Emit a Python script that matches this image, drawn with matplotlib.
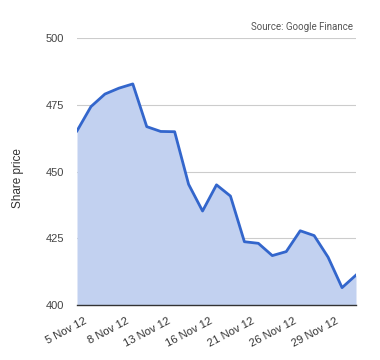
import matplotlib
matplotlib.use("Agg")
import matplotlib.pyplot as plt
import matplotlib.transforms as mtransforms

# Daily closing share price
dates = ["5 Nov 12", "6 Nov 12", "7 Nov 12", "8 Nov 12", "9 Nov 12",
         "12 Nov 12", "13 Nov 12", "14 Nov 12", "15 Nov 12", "16 Nov 12",
         "19 Nov 12", "20 Nov 12", "21 Nov 12", "22 Nov 12", "23 Nov 12",
         "26 Nov 12", "27 Nov 12", "28 Nov 12", "29 Nov 12", "30 Nov 12",
         "3 Dec 12"]
prices = [465.2, 474.3, 479.0, 481.2, 482.8,
          466.8, 465.0, 464.9, 445.2, 435.2,
          445.0, 440.8, 423.7, 423.1, 418.5,
          420.0, 427.8, 426.0, 417.9, 406.5,
          411.2]
yticks = [400, 425, 450, 475, 500]

plt.rcParams["font.family"] = ["Liberation Sans", "DejaVu Sans"]

fig = plt.figure(figsize=(3.8, 3.6), dpi=100)
ax = fig.add_axes([77 / 380, 1 - 305 / 360, (356 - 77) / 380, (305 - 38) / 360])

x = list(range(len(prices)))
ax.fill_between(x, 400, prices, color="#c2d1f0", lw=0)
ax.plot(x, prices, color="#3366cc", lw=2)

ax.set_xlim(0, len(prices) - 1)
ax.set_ylim(400, 500)
ax.set_yticks(yticks)
ax.set_yticklabels([str(v) for v in yticks], color="#444444", fontsize=8)
ax.grid(axis="y", color="#cccccc", lw=0.8)
ax.set_axisbelow(True)

tick_idx = x[::3]
ax.set_xticks(tick_idx)
ax.set_xticklabels([dates[i] for i in tick_idx], rotation=28, ha="right",
                   rotation_mode="anchor", color="#333333", fontsize=8)
ax.tick_params(axis="y", length=0, pad=9.4)
ax.tick_params(axis="x", length=0, pad=8)
shift = mtransforms.ScaledTranslation(7 / 100, 0, fig.dpi_scale_trans)
for lbl in ax.get_xticklabels():
    lbl.set_transform(lbl.get_transform() + shift)

for s in ["top", "right", "left"]:
    ax.spines[s].set_visible(False)
ax.spines["bottom"].set_color("#333333")
ax.spines["bottom"].set_linewidth(1)
ax.spines["bottom"].set_zorder(5)

ax.set_ylabel("Share price", fontsize=8.5, color="#333333")
ax.yaxis.set_label_coords(-53 / 279, 0.476)

fig.text(353 / 380, 1 - 27 / 360, "Source: Google Finance", ha="right", va="center",
         fontsize=7, color="#555555", family=["Roboto", "DejaVu Sans"])

fig.savefig("out.png", dpi=100)
